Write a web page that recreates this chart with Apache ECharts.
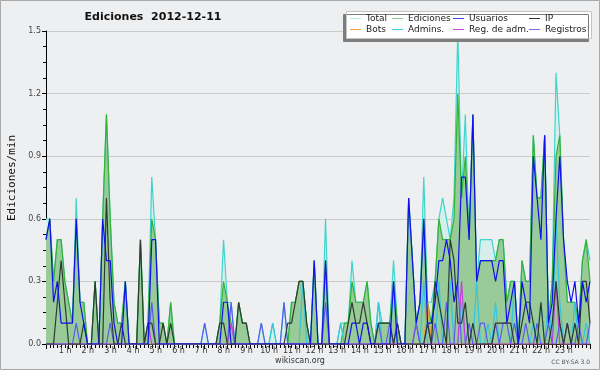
<!DOCTYPE html>
<html><head><meta charset="utf-8">
<script src="https://cdn.jsdelivr.net/npm/echarts@6/dist/echarts.min.js"></script>
<style>html,body{margin:0;padding:0;background:#eeeff1}#c{width:600px;height:370px}</style>
</head><body><div id="c"></div>
<script>
// 10-minute bins, 00:00 .. 24:00 (145 points), edits per minute
const total = [
 0.6,0.6,0.3,0.5,0.5,0.3, 0.2,0.1,0.7,0.2,0.2,0, 0,0.3,0,0.6,1.1,0.6, 0.2,0.1,0.1,0.3,0,0,
 0,0.5,0,0.1,0.8,0.5, 0.1,0.1,0,0.2,0,0, 0,0,0,0,0,0, 0.1,0,0,0,0.1,0.5,
 0.2,0.2,0,0.2,0.1,0.1, 0,0,0,0.1,0,0, 0.1,0,0,0.2,0,0.2, 0.2,0.3,0.3,0.1,0,0.4,
 0,0,0.6,0,0,0, 0.1,0.1,0.1,0.4,0.2,0.2, 0.2,0.3,0.1,0,0.2,0.1, 0.1,0.1,0.4,0.1,0,0,
 0.7,0.4,0.1,0.2,0.8,0.2, 0.2,0.3,0.6,0.7,0.6,0.5, 0.7,1.5,0.7,1.1,0.5,1.1, 0.3,0.5,0.5,0.5,0.5,0.4,
 0.5,0.5,0.2,0.3,0.3,0, 0.4,0.3,0.3,1.0,0.7,0.7, 1.0,0.1,0.3,1.3,1.0,0.5, 0.2,0.2,0.2,0.1,0.4,0.5,
 0.4];
const ediciones = [
 0.5,0.6,0.3,0.5,0.5,0.3, 0.2,0.1,0.6,0.2,0.2,0, 0,0.3,0,0.6,1.1,0.6, 0.2,0.1,0.1,0.3,0,0,
 0,0.5,0,0.1,0.6,0.5, 0.1,0.1,0,0.2,0,0, 0,0,0,0,0,0, 0,0,0,0,0.1,0.3,
 0.2,0.1,0,0.2,0.1,0.1, 0,0,0,0,0,0, 0,0,0,0,0,0.2, 0.2,0.3,0.3,0.1,0,0.4,
 0,0,0.4,0,0,0, 0,0.1,0.1,0.3,0.2,0.2, 0.2,0.3,0.1,0,0.1,0.1, 0.1,0.1,0.3,0.1,0,0,
 0.7,0.4,0.1,0.2,0.6,0.2, 0.1,0.3,0.6,0.5,0.5,0.5, 0.6,1.2,0.7,0.9,0.5,1.1, 0.3,0.4,0.4,0.4,0.4,0.4,
 0.5,0.5,0.2,0.3,0.3,0, 0.4,0.3,0.3,1.0,0.7,0.7, 1.0,0.1,0.3,0.9,1.0,0.5, 0.2,0.2,0.2,0.1,0.4,0.5,
 0.3];
const usuarios = [
 0.5,0.6,0.2,0.3,0.1,0.1, 0.1,0.1,0.6,0.2,0.1,0, 0,0,0,0.6,0.4,0.4, 0.1,0,0,0.3,0,0,
 0,0,0,0,0.5,0.5, 0,0,0,0,0,0, 0,0,0,0,0,0, 0,0,0,0,0,0.2,
 0.2,0,0,0,0,0, 0,0,0,0,0,0, 0,0,0,0,0,0, 0,0,0,0,0,0.4,
 0,0,0.4,0,0,0, 0,0,0,0.1,0.1,0, 0.1,0.1,0,0,0,0, 0,0,0.3,0,0,0,
 0.7,0.4,0.1,0.2,0.6,0.1, 0.1,0.2,0.4,0.4,0.5,0.4, 0.2,0.3,0.8,0.8,0.5,1.1, 0.3,0.4,0.4,0.4,0.4,0.3,
 0.4,0.4,0.1,0.2,0.3,0, 0.3,0.2,0.1,0.9,0.7,0.5, 1.0,0.1,0.2,0.6,0.9,0.5, 0.3,0.2,0.3,0.1,0.3,0.2,
 0.3];
const ip = [
 0,0,0,0.2,0.4,0.2, 0,0,0,0,0.1,0, 0,0.3,0,0,0.7,0.2, 0,0,0.1,0,0,0,
 0,0.5,0,0.1,0.1,0, 0,0.1,0,0.1,0,0, 0,0,0,0,0,0, 0,0,0,0,0.1,0.1,
 0,0,0,0.2,0.1,0.1, 0,0,0,0,0,0, 0,0,0,0,0.1,0.1, 0.2,0.3,0.3,0.1,0,0,
 0,0,0,0,0,0, 0,0,0.1,0.2,0.1,0.1, 0.2,0.1,0,0,0.1,0.1, 0.1,0.1,0,0.1,0,0,
 0,0,0,0,0,0.1, 0,0.3,0.2,0.1,0,0.5, 0.4,0.1,0.1,0.2,0,0.1, 0,0,0,0,0,0.1,
 0.1,0.1,0.1,0.1,0,0, 0.1,0.2,0.2,0.1,0,0.2, 0,0,0.1,0.3,0.1,0, 0.1,0,0.1,0,0.3,0.3,
 0.1];
const bots = [
 0,0,0,0,0,0, 0,0,0,0,0,0, 0,0,0,0,0,0, 0,0,0,0,0,0,
 0,0,0,0,0,0, 0,0,0,0,0,0, 0,0,0,0,0,0, 0,0,0,0,0,0,
 0,0,0,0,0,0, 0,0,0,0,0,0, 0,0,0,0,0,0, 0,0,0,0,0,0,
 0,0,0,0,0,0, 0,0,0,0,0,0, 0,0,0,0,0,0, 0,0,0,0,0,0,
 0,0,0,0,0,0.2, 0,0,0,0,0,0, 0,0,0,0,0,0, 0,0,0,0,0,0,
 0,0,0,0,0,0, 0,0,0,0,0,0, 0,0,0,0,0,0, 0,0,0,0,0,0,
 0];
const admins = [
 0,0,0,0,0,0, 0,0,0,0,0,0, 0,0,0,0,0,0, 0,0,0,0,0,0,
 0,0,0,0,0,0, 0,0,0,0,0,0, 0,0,0,0,0,0, 0,0,0,0,0,0,
 0,0,0,0,0,0, 0,0,0,0,0,0, 0.1,0,0,0,0,0, 0,0,0.3,0,0,0,
 0,0,0,0,0,0, 0.1,0,0,0,0,0, 0,0,0,0,0.2,0, 0,0,0.3,0,0,0,
 0,0,0,0,0.3,0, 0,0,0.3,0,0,0.3, 0,0,0.2,0,0,0, 0.3,0,0,0.1,0,0.2,
 0,0,0,0,0.3,0, 0,0,0,0.1,0,0.2, 0,0.2,0,0.6,0.2,0, 0,0,0.2,0,0,0.1,
 0];
const regAdm = [
 0,0,0,0,0,0, 0,0,0,0,0,0, 0,0,0,0,0,0, 0,0,0,0,0,0,
 0,0,0,0.1,0,0, 0,0,0,0,0,0, 0,0,0,0,0,0, 0,0,0,0,0,0,
 0,0.1,0,0,0,0, 0,0,0,0,0,0, 0,0,0,0,0,0, 0,0,0,0,0,0,
 0,0,0,0,0,0, 0,0,0,0,0,0, 0,0,0,0,0,0, 0,0,0,0,0,0,
 0,0,0.1,0,0,0, 0,0,0,0,0,0, 0,0,0.3,0,0,0, 0,0,0,0,0,0,
 0,0,0,0,0,0, 0,0,0,0,0,0, 0,0,0,0.3,0,0, 0,0,0,0,0,0,
 0];
const registros = [
 0,0,0,0,0,0, 0,0,0.1,0,0,0, 0,0,0,0,0,0.1, 0,0,0,0,0,0,
 0,0,0,0,0.2,0, 0,0,0,0,0,0, 0,0,0,0,0,0, 0.1,0,0,0,0,0,
 0,0.2,0,0,0,0, 0,0,0,0.1,0,0, 0,0,0,0.2,0,0, 0,0,0,0,0,0,
 0,0,0.2,0,0,0, 0,0,0,0,0,0, 0,0,0,0,0.1,0, 0,0.1,0,0.1,0,0,
 0,0,0.1,0,0,0.1, 0,0.1,0,0,0.2,0, 0,0.3,0,0,0.1,0, 0,0.1,0.1,0,0,0.1,
 0,0.1,0.1,0,0.1,0, 0,0.1,0,0,0.1,0, 0,0.1,0,0,0.1,0, 0.1,0,0,0.1,0,0,
 0.1];

const xTickLabels = ['', '1 h','2 h','3 h','4 h','5 h','6 h','7 h','8 h','9 h','10 h','11 h','12 h',
  '13 h','14 h','15 h','16 h','17 h','18 h','19 h','20 h','21 h','22 h','23 h',''];
const yTickLabels = ['0.0','0.3','0.6','0.9','1.2','1.5'];
const titleText = 'Ediciones  2012-12-11';
const yName = 'Ediciones/min';

const chart = echarts.init(document.getElementById('c'), null, {renderer:'canvas'});
const toPts = arr => arr.map((v, i) => [i / 6, v]);
function mk(name, arr, color, legendColor, area) {
  const s = {
    name, type: 'line', data: toPts(arr), showSymbol: false, symbol: 'none',
    lineStyle: { color, width: 1.2 }, itemStyle: { color: legendColor },
    emphasis: { disabled: true }, animation: false
  };
  if (area) s.areaStyle = { color: area, opacity: 1 };
  return s;
}
const legendColors = {
  'Total': '#b2e8e6', 'Ediciones': '#8fd08f', 'Usuarios': '#4444ee', 'IP': '#333333',
  'Bots': '#f4a040', 'Admins.': '#40cce0', 'Reg. de adm.': '#cc44dd', 'Registros': '#7070f0'
};
const legBase = {
  orient: 'vertical', top: 13, icon: 'rect', itemWidth: 11, itemHeight: 1, itemGap: 0,
  padding: 0, selectedMode: false, z: 110,
  itemStyle: { borderWidth: 0 },
  textStyle: { fontFamily: 'DejaVu Sans', fontSize: 9, color: '#222', lineHeight: 11 }
};
const legItem = n => ({ name: n, itemStyle: { color: legendColors[n], borderWidth: 0 } });

chart.setOption({
  animation: false,
  backgroundColor: '#eeeff1',
  grid: { left: 46, right: 10, top: 31, bottom: 26, containLabel: false },
  legend: [
    Object.assign({}, legBase, { left: 350, data: ['Total', 'Bots'].map(legItem) }),
    Object.assign({}, legBase, { left: 392, data: ['Ediciones', 'Admins.'].map(legItem) }),
    Object.assign({}, legBase, { left: 453, data: ['Usuarios', 'Reg. de adm.'].map(legItem) }),
    Object.assign({}, legBase, { left: 529, data: ['IP', 'Registros'].map(legItem) })
  ],
  xAxis: {
    type: 'value', min: 0, max: 24, interval: 1,
    axisLine: { show: true, lineStyle: { color: '#000', width: 1 } },
    axisTick: { show: true, length: 5, lineStyle: { color: '#000' } },
    minorTick: { show: true, splitNumber: 6, length: 4, lineStyle: { color: '#000' } },
    splitLine: { show: false },
    axisLabel: {
      margin: 3, fontFamily: 'DejaVu Sans', fontSize: 8, color: '#333', padding: [0, 7, 0, 0],
      formatter: v => xTickLabels[Math.round(v)] || ''
    }
  },
  yAxis: {
    type: 'value', min: 0, max: 1.5, interval: 0.3,
    axisLine: { show: true, lineStyle: { color: '#000', width: 1 } },
    axisTick: { show: true, length: 4, lineStyle: { color: '#000' } },
    minorTick: { show: true, splitNumber: 4, length: 3, lineStyle: { color: '#000' } },
    splitLine: { show: true, lineStyle: { color: '#cbcbcb', width: 1 } },
    axisLabel: {
      margin: 5, fontFamily: 'DejaVu Sans', fontSize: 8, color: '#444',
      formatter: v => yTickLabels[Math.round(v / 0.3)]
    }
  },
  series: [
    mk('Total', total, '#3fd4cc', legendColors['Total'], '#d7efec'),
    mk('Ediciones', ediciones, '#33b233', legendColors['Ediciones'], '#99cb99'),
    mk('Admins.', admins, '#34c6dc', legendColors['Admins.']),
    mk('Bots', bots, '#f39a2a', legendColors['Bots']),
    mk('Reg. de adm.', regAdm, '#c63ee0', legendColors['Reg. de adm.']),
    mk('Registros', registros, '#5a5af0', legendColors['Registros']),
    mk('IP', ip, '#2e3a2e', legendColors['IP']),
    mk('Usuarios', usuarios, '#1010ee', legendColors['Usuarios'])
  ],
  graphic: [
    { type: 'rect', z: -1, silent: true, shape: { x: 0.5, y: 0.5, width: 599, height: 369 },
      style: { fill: 'none', stroke: '#a8a8a8', lineWidth: 1 } },
    { type: 'rect', z: 100, silent: true, shape: { x: 346.5, y: 11.5, width: 245, height: 27 },
      style: { fill: '#ffffff', stroke: '#c4c4c4', lineWidth: 1,
               shadowColor: '#7d7d7d', shadowBlur: 0, shadowOffsetX: -3, shadowOffsetY: 3 } },
    { type: 'text', z: 100, silent: true, x: 153, y: 17,
      style: { text: titleText, fontFamily: 'DejaVu Sans', fontWeight: 'bold', fontSize: 11,
               fill: '#111', textAlign: 'center', textVerticalAlign: 'middle' } },
    { type: 'text', z: 100, silent: true, x: 12, y: 178, rotation: Math.PI / 2,
      style: { text: yName, fontFamily: 'DejaVu Sans Mono', fontSize: 11,
               fill: '#111', textAlign: 'center', textVerticalAlign: 'middle' } },
    { type: 'text', z: 100, silent: true, x: 300, y: 361,
      style: { text: 'wikiscan.org', fontFamily: 'DejaVu Sans', fontSize: 8,
               fill: '#333', textAlign: 'center', textVerticalAlign: 'middle' } },
    { type: 'text', z: 100, silent: true, x: 590, y: 362,
      style: { text: 'CC BY-SA 3.0', fontFamily: 'DejaVu Sans', fontSize: 6,
               fill: '#555', textAlign: 'right', textVerticalAlign: 'middle' } }
  ]
});
</script>
</body></html>
